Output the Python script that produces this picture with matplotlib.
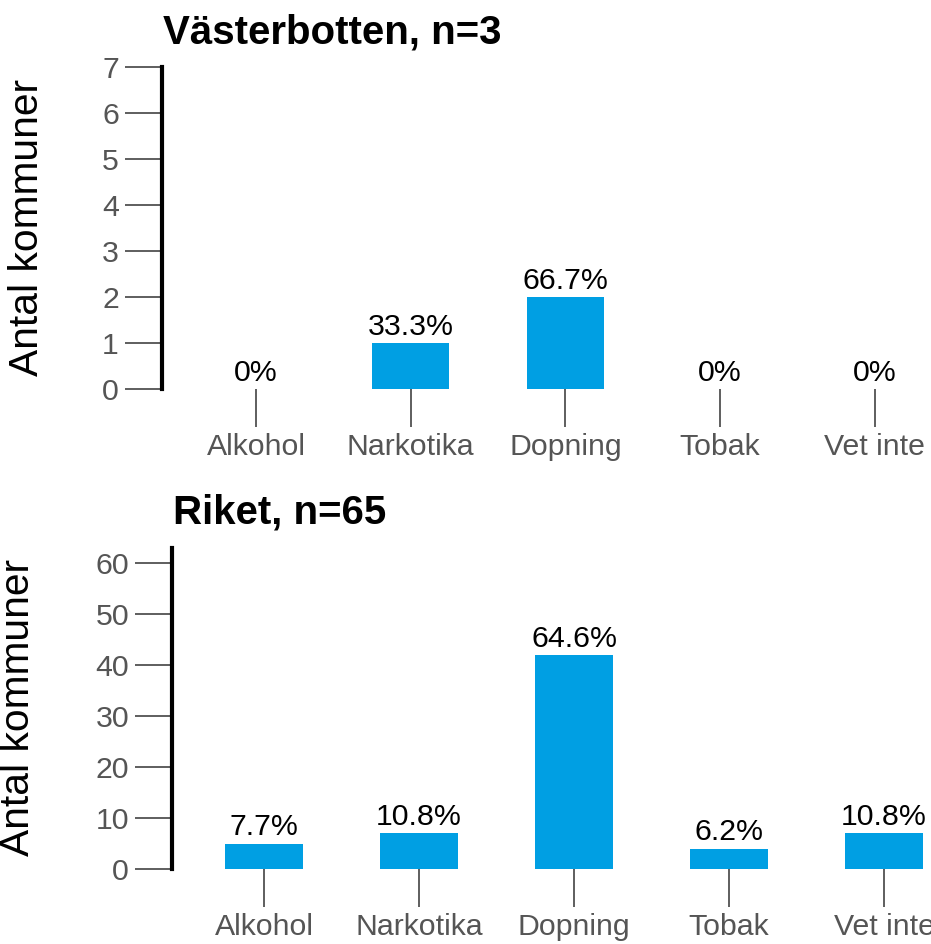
import matplotlib
matplotlib.use("Agg")
import matplotlib.pyplot as plt

plt.rcParams["font.family"] = ["Liberation Sans", "DejaVu Sans"]

categories = ["Alkohol", "Narkotika", "Dopning", "Tobak", "Vet inte"]

region_title = "Västerbotten"
region_counts = [0, 1, 2, 0, 0]
region_yticks = [0, 1, 2, 3, 4, 5, 6, 7]

national_title = "Riket"
national_counts = [5, 7, 42, 4, 7]
national_yticks = [0, 10, 20, 30, 40, 50, 60]

ylabel = "Antal kommuner"
bar_color = "#009FE3"

W, H = 931, 944
fig = plt.figure(figsize=(W / 100, H / 100), dpi=100)


def px_axes(left, top, right, bottom):
    """Axes placed by pixel edges (origin top-left)."""
    return fig.add_axes([left / W, 1 - bottom / H, (right - left) / W, (bottom - top) / H])


def pct_label(c, n):
    if c == 0:
        return "0%"
    return f"{100 * c / n:.1f}%"


def draw_panel(ax, counts, yticks, ymax, xlim, title, title_xy, ylabel_xy):
    n = sum(counts)
    x = list(range(len(categories)))
    ax.bar(x, counts, width=0.5, color=bar_color, zorder=2)
    for xi, c in zip(x, counts):
        ax.annotate(pct_label(c, n), (xi, c), xytext=(0, 6), textcoords="offset points",
                    ha="center", va="baseline", fontsize=21.8, color="black",
                    annotation_clip=False)
    ax.set_xlim(*xlim)
    ax.set_ylim(0, ymax)
    ax.set_xticks(x)
    ax.set_xticklabels(categories)
    ax.set_yticks(yticks)
    for s in ("top", "right", "bottom"):
        ax.spines[s].set_visible(False)
    ax.spines["left"].set_linewidth(3)
    ax.spines["left"].set_color("black")
    ax.tick_params(axis="y", direction="out", length=27, width=1.1, color="#333333",
                   labelsize=21.8, labelcolor="#555555", pad=4)
    ax.tick_params(axis="x", direction="out", length=27, width=1.1, color="#333333",
                   labelsize=21.8, labelcolor="#555555", pad=5)
    ax.patch.set_visible(False)
    fig.text(title_xy[0] / W, 1 - title_xy[1] / H, f"{title}, n={n}",
             fontsize=29, fontweight="bold", ha="left", va="baseline")
    fig.text(ylabel_xy[0] / W, 1 - ylabel_xy[1] / H, ylabel, rotation=90,
             fontsize=29.3, ha="center", va="center")


ax1 = px_axes(162, 67, W, 389)
draw_panel(ax1, region_counts, region_yticks, 7, (-0.608, (W - 256) / 154.7),
           region_title, (163, 43), (27, 227))

ax2 = px_axes(172, 548, W, 869)
draw_panel(ax2, national_counts, national_yticks, 63, (-0.594, (W - 264) / 155.0),
           national_title, (173, 523), (18, 707))

fig.savefig("out.png", dpi=100)
